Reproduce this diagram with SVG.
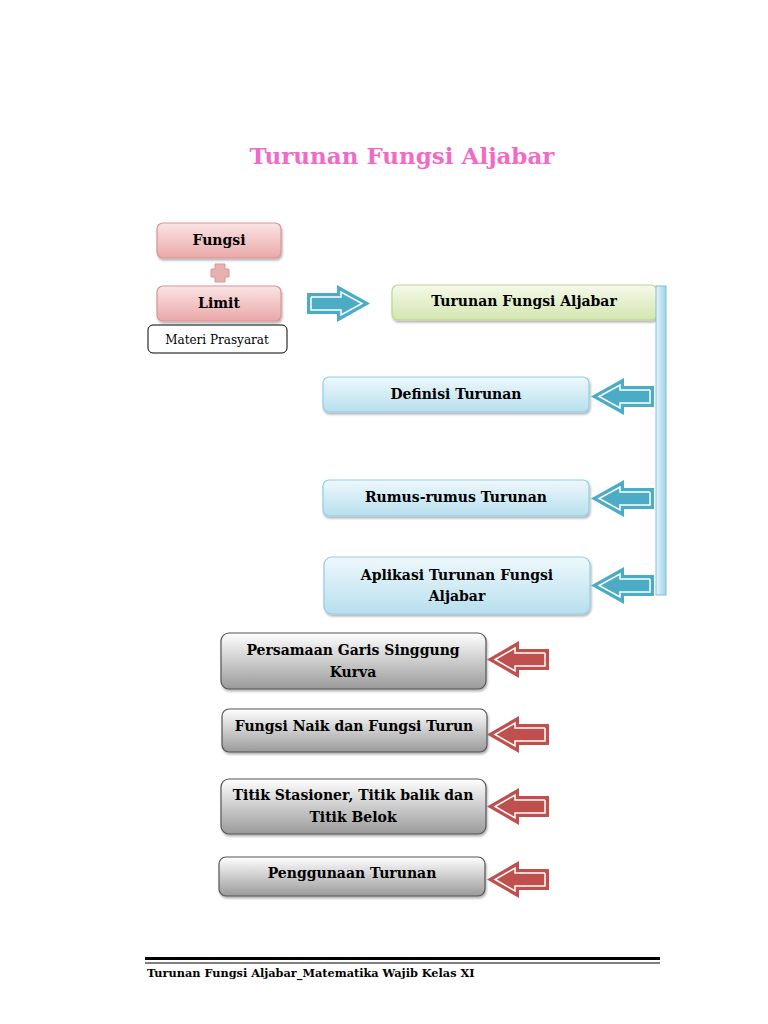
<svg xmlns="http://www.w3.org/2000/svg" width="768" height="1024" viewBox="0 0 768 1024">
<defs>
<linearGradient id="pink" x1="0" y1="0" x2="0" y2="1"><stop offset="0" stop-color="#fbe4e4"/><stop offset="1" stop-color="#e9a8a8"/></linearGradient>
<linearGradient id="green" x1="0" y1="0" x2="0" y2="1"><stop offset="0" stop-color="#f5f9ea"/><stop offset="1" stop-color="#d4e6b0"/></linearGradient>
<linearGradient id="blue" x1="0" y1="0" x2="0" y2="1"><stop offset="0" stop-color="#eef8fc"/><stop offset="1" stop-color="#b7dfee"/></linearGradient>
<linearGradient id="grey" x1="0" y1="0" x2="0" y2="1"><stop offset="0" stop-color="#ffffff"/><stop offset="1" stop-color="#9a9a9a"/></linearGradient>
<linearGradient id="bar" x1="0" y1="0" x2="1" y2="0"><stop offset="0" stop-color="#e6f4fa"/><stop offset="1" stop-color="#9fd2e6"/></linearGradient>
<filter id="sh" x="-5%" y="-10%" width="110%" height="130%"><feDropShadow dx="1" dy="2" stdDeviation="1.2" flood-color="#000" flood-opacity="0.3"/></filter>
</defs>
<style>
.t{font-family:"DejaVu Serif","Liberation Serif",serif;font-weight:bold;font-size:14px;fill:#000;text-anchor:middle}
.pk{fill:url(#pink);stroke:#d99595;stroke-width:1.2}
.gr{fill:url(#green);stroke:#bcd68e;stroke-width:1.2}
.bl{fill:url(#blue);stroke:#93cde3;stroke-width:1.2}
.gy{fill:url(#grey);stroke:#555;stroke-width:1.2}
.ab{fill:#4bacc6}
.ar{fill:#c0504d}
.in{fill:none;stroke:#fff;stroke-width:1.5}
</style>
<rect width="768" height="1024" fill="#fff"/>
<text x="402" y="164" font-family="DejaVu Serif, serif" font-weight="bold" font-size="23" fill="#f06ac8" text-anchor="middle">Turunan Fungsi Aljabar</text>

<g id="fungsi"><rect class="pk" x="157" y="223" width="124" height="35" rx="6" filter="url(#sh)"/><text class="t" x="219" y="245">Fungsi</text></g>
<g id="plus"><path d="M215 264h10v5h4v8h-4v5h-10v-5h-4v-8h4z" fill="#e8b0b0" stroke="#d99595"/></g>
<g id="limit"><rect class="pk" x="157" y="286" width="124" height="35" rx="6" filter="url(#sh)"/><text class="t" x="219" y="308">Limit</text></g>
<g id="prasyarat"><rect x="148" y="325" width="139" height="28" rx="5" fill="#fff" stroke="#000" stroke-width="1"/><text x="217" y="344" font-family="DejaVu Serif, serif" font-size="12" text-anchor="middle">Materi Prasyarat</text></g>
<g id="turunan"><rect class="gr" x="392" y="285" width="265" height="35" rx="6" filter="url(#sh)"/><text class="t" x="524" y="306">Turunan Fungsi Aljabar</text></g>
<g id="definisi"><rect class="bl" x="323" y="377" width="266" height="35" rx="6" filter="url(#sh)"/><text class="t" x="456" y="399">Definisi Turunan</text></g>
<g id="rumus"><rect class="bl" x="323" y="480" width="266" height="36" rx="6" filter="url(#sh)"/><text class="t" x="456" y="502">Rumus-rumus Turunan</text></g>
<g id="aplikasi"><rect class="bl" x="324" y="557" width="266" height="57" rx="8" filter="url(#sh)"/><text class="t" x="457" y="580">Aplikasi Turunan Fungsi</text><text class="t" x="457" y="601">Aljabar</text></g>
<g id="persamaan"><rect class="gy" x="221" y="633" width="265" height="56" rx="8" filter="url(#sh)"/><text class="t" x="353" y="655">Persamaan Garis Singgung</text><text class="t" x="353" y="677">Kurva</text></g>
<g id="naik"><rect class="gy" x="222" y="709" width="265" height="43" rx="7" filter="url(#sh)"/><text class="t" x="354" y="731">Fungsi Naik dan Fungsi Turun</text></g>
<g id="titik"><rect class="gy" x="221" y="779" width="265" height="55" rx="8" filter="url(#sh)"/><text class="t" x="353" y="800">Titik Stasioner, Titik balik dan</text><text class="t" x="353" y="822">Titik Belok</text></g>
<g id="penggunaan"><rect class="gy" x="219" y="857" width="266" height="39" rx="7" filter="url(#sh)"/><text class="t" x="352" y="878">Penggunaan Turunan</text></g>

<g id="connectors">
<rect x="656" y="286" width="10" height="309" fill="url(#bar)" stroke="#7fc1da" stroke-width="1"/>
<g id="arrowR">
<polygon class="ab" points="307,293 337,293 337,285 370,303.5 337,322 337,314 307,314"/>
<polyline class="in" points="311,297 341,297 341,292 362,303.5 341,315 341,310 311,310 311,297"/>
</g>
<g id="al1" transform="translate(0,378)">
<polygon class="ab" points="654,8 624,8 624,0 591,18.5 624,37 624,29 654,29"/>
<polyline class="in" points="650,12 620,12 620,7 599,18.5 620,30 620,25 650,25 650,12"/>
</g>
<g transform="translate(0,480)">
<polygon class="ab" points="654,8 624,8 624,0 591,18.5 624,37 624,29 654,29"/>
<polyline class="in" points="650,12 620,12 620,7 599,18.5 620,30 620,25 650,25 650,12"/>
</g>
<g transform="translate(0,567)">
<polygon class="ab" points="654,8 624,8 624,0 591,18.5 624,37 624,29 654,29"/>
<polyline class="in" points="650,12 620,12 620,7 599,18.5 620,30 620,25 650,25 650,12"/>
</g>
<g transform="translate(-104,641)">
<polygon class="ar" points="653,8 623,8 623,0 591,18.5 623,37 623,29 653,29"/>
<polyline class="in" points="649,12 619,12 619,7 599,18.5 619,30 619,25 649,25 649,12"/>
</g>
<g transform="translate(-104,716)">
<polygon class="ar" points="653,8 623,8 623,0 591,18.5 623,37 623,29 653,29"/>
<polyline class="in" points="649,12 619,12 619,7 599,18.5 619,30 619,25 649,25 649,12"/>
</g>
<g transform="translate(-104,788)">
<polygon class="ar" points="653,8 623,8 623,0 591,18.5 623,37 623,29 653,29"/>
<polyline class="in" points="649,12 619,12 619,7 599,18.5 619,30 619,25 649,25 649,12"/>
</g>
<g transform="translate(-104,861)">
<polygon class="ar" points="653,8 623,8 623,0 591,18.5 623,37 623,29 653,29"/>
<polyline class="in" points="649,12 619,12 619,7 599,18.5 619,30 619,25 649,25 649,12"/>
</g>
</g>

<rect x="145" y="957" width="515" height="3" fill="#000"/>
<rect x="145" y="962.5" width="515" height="1" fill="#000"/>
<text x="147" y="977" font-family="DejaVu Serif, serif" font-weight="bold" font-size="11.3">Turunan Fungsi Aljabar_Matematika Wajib Kelas XI</text>
</svg>
